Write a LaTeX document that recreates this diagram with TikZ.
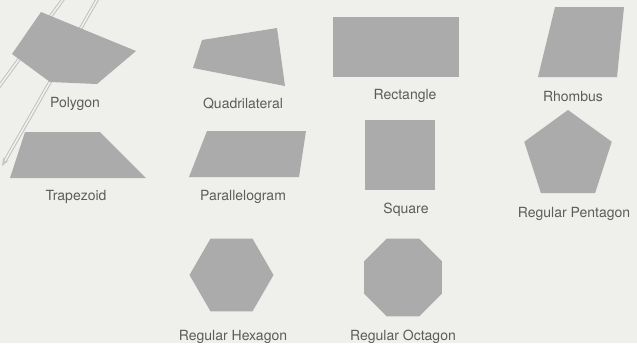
\documentclass[tikz,border=0pt]{standalone}
\usepackage{fontspec}
\setmainfont{TeX Gyre Heros}
\usepackage{xcolor}
\usetikzlibrary{arrows.meta}
\definecolor{paperc}{HTML}{EFEFEC}
\definecolor{shapec}{HTML}{ABABAB}
\definecolor{textc}{HTML}{5C5C5C}
\definecolor{bleedc}{HTML}{C2C2BF}
\tikzset{
  shp/.style={fill=shapec},
  lbl/.style={text=textc,font=\fontsize{14}{16}\selectfont,inner sep=0pt},
  bleed/.style={draw=bleedc,double=paperc,double distance=1.6pt,line width=1pt}
}

\begin{document}
\begin{tikzpicture}[x=1pt,y=-1pt]
\fill[paperc] (0,0) rectangle (637,343);
\useasboundingbox (0,0) rectangle (637,343);
% faint lines showing through the paper
\draw[bleed] (64,-2)--(-2,88);
\draw[bleed,-{Stealth[length=8pt,open]}] (98,-2)--(2,166);
% top row
\fill[shp] (41,12)--(136,51)--(97,84)--(50,82)--(12,54)--cycle;
\node[lbl] (polygon) at (75,104) {Polygon};
\fill[shp] (202,40)--(277,28)--(285,86)--(193,68)--cycle;
\node[lbl] (quad) at (243,104) {Quadrilateral};
\fill[shp] (333,17) rectangle (459,77);
\node[lbl] (rect) at (405,96) {Rectangle};
\fill[shp] (555,7)--(624,7)--(617,77)--(538,77)--cycle;
\node[lbl] (rhombus) at (573,96) {Rhombus};
% middle row
\fill[shp] (25,132)--(100,132)--(146,178)--(10,178)--cycle;
\node[lbl] (trapezoid) at (76,197) {Trapezoid};
\fill[shp] (207,131)--(306,131)--(299,177)--(189,177)--cycle;
\node[lbl] (para) at (243,197) {Parallelogram};
\fill[shp] (365,120) rectangle (435,190);
\node[lbl] (square) at (406,210) {Square};
\fill[shp,shift={(568,156)}] (-90:46)
  \foreach \a in {-18,54,126,198} {--(\a:46)} --cycle;
\node[lbl] (pentagon) at (574,214) {Regular Pentagon};
% bottom row
\fill[shp,shift={(231.5,275)}] (0:42)
  \foreach \a in {60,120,...,300} {--(\a:42)} --cycle;
\node[lbl] (hexagon) at (233,337) {Regular Hexagon};
\fill[shp,shift={(403,277.5)}] (22.5:42.2)
  \foreach \a in {67.5,112.5,...,337.5} {--(\a:42.2)} --cycle;
\node[lbl] (octagon) at (403,337) {Regular Octagon};
\end{tikzpicture}
\end{document}
